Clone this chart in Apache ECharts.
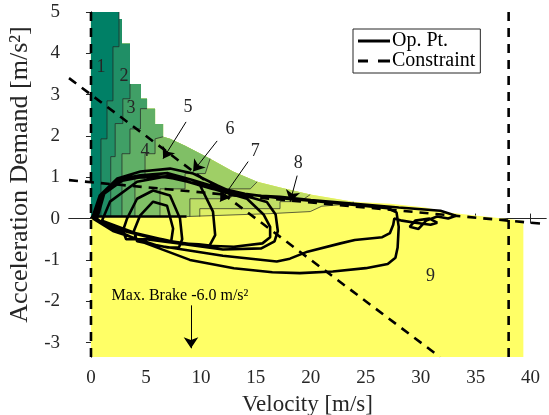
<!DOCTYPE html>
<html>
<head>
<meta charset="utf-8">
<script src="https://cdn.jsdelivr.net/npm/echarts@6/dist/echarts.min.js"></script>
<style>
html, body { margin: 0; background: #fff; }
#chart { width: 549px; height: 415px; }
</style>
</head>
<body>
<div id="chart"></div>
<script>
// max acceleration envelope of the gear map (velocity, accel)
var envelope = [
    [2.55, 5.0], [2.55, 4.83], [2.82, 4.83], [2.82, 4.23], [3.55, 4.23], [3.55, 3.26],
    [4.55, 3.26], [4.55, 2.90], [5.10, 2.90], [5.10, 2.66], [5.83, 2.66], [5.83, 2.29],
    [6.56, 2.29], [6.56, 1.98], [7.19, 1.93], [8.56, 1.76], [10.84, 1.45], [12.93, 1.14],
    [15.12, 0.89], [17.21, 0.75], [19.95, 0.58], [23.86, 0.41], [27.23, 0.36], [30.42, 0.27],
    [32.70, 0.14], [39.34, -0.05]
];
// index of the envelope point where each gear's right border starts
var gearCut = [0, 5, 9, 13, 16, 18, 20, 21];
// right border of gears 1..8
var gearEdges = [
    [[2.55, 5.0], [2.55, 4.16], [2.0, 4.16], [2.0, 2.85], [1.46, 2.85], [1.46, 1.93], [0.91, 1.93], [0.91, 0.05]],
    [[3.55, 3.26], [3.55, 2.90], [2.9, 2.90], [2.9, 2.30], [2.2, 2.30], [2.2, 1.50], [1.8, 1.50], [1.8, 0.05]],
    [[5.10, 2.66], [4.5, 2.66], [4.5, 2.17], [3.55, 2.17], [3.55, 1.57], [2.82, 1.57], [2.82, 0.05]],
    [[6.56, 1.98], [5.83, 1.93], [5.83, 1.57], [4.92, 1.57], [4.92, 0.97], [4.0, 0.97], [4.0, 0.05]],
    [[10.84, 1.45], [10.4, 1.09], [8.56, 1.09], [8.56, 0.72], [6.28, 0.72], [6.28, 0.05]],
    [[15.12, 0.89], [14.5, 0.72], [12.2, 0.72], [12.2, 0.48], [9.0, 0.48], [9.0, 0.05]],
    [[19.95, 0.58], [19.0, 0.41], [17.2, 0.41], [17.2, 0.24], [9.9, 0.24], [9.9, 0.05]],
    [[23.86, 0.41], [23.86, 0.36], [21.0, 0.30], [19.95, 0.17], [16.3, 0.12], [8.7, 0.05]]
];
var gearColors = ['#008066', '#208f66', '#409f66', '#60af66', '#80bf66', '#9fcf66', '#bfdf66', '#dfef66', '#ffff66'];
var gearNames = ['1', '2', '3', '4', '5', '6', '7', '8', '9'];
var gearNamePos = [[0.91, 3.67], [3.0, 3.45], [3.64, 2.66], [4.92, 1.64], [8.83, 2.70], [12.66, 2.17], [14.94, 1.64], [18.85, 1.33], [30.9, -1.40]];
// arrows from labels 5..8 to their regions
var arrowFrom = [[8.65, 2.34], [11.48, 1.88], [14.3, 1.38], [18.76, 1.04]];
var arrowTo = [[6.56, 1.45], [9.29, 1.14], [11.75, 0.41], [18.12, 0.41]];
var brakeText = 'Max. Brake -6.0 m/s²';
var brakeTextPos = [8.1, -1.86];
var brakeArrow = [[9.1, -2.1], [9.1, -3.14]];

// operating points
var opPt = [
    // long run up to 33 m/s, back down through the middle curve
    [0, 0], [0.18, 0.07], [0.8, 0.56], [2.4, 0.97], [4.5, 1.14], [7.2, 1.21], [9.3, 1.09], [11.5, 0.8],
    [13, 0.62], [15.5, 0.55], [17.2, 0.53], [20, 0.45], [24, 0.36], [28, 0.27], [31.8, 0.19], [33.2, 0.07],
    [32.5, 0.0], [31.5, 0.05], [30.5, -0.05], [29.8, -0.25], [29.0, -0.2], [29.5, -0.05], [30.8, 0.0],
    [31.5, -0.1], [30.9, -0.15], [29.5, -0.1], [28.3, -0.05], [27.6, 0.0], [27.5, -0.15], [27.2, -0.35],
    [26.5, -0.45], [24, -0.52], [22.7, -0.6], [19.7, -0.8], [18.1, -0.97], [16.9, -1.04], [12, -0.9],
    [6, -0.65], [2, -0.3], [0.2, 0],
    // run to 28 m/s with harder braking
    [1, 0.6], [2.5, 0.95], [4.5, 1.05], [7, 1.1], [9, 0.95], [11.5, 0.75], [14, 0.6], [17, 0.5],
    [20, 0.43], [24, 0.33], [27, 0.25], [27.8, 0.15], [28.0, -0.2], [27.9, -0.7], [27.7, -0.95],
    [27.0, -1.1], [25, -1.2], [22, -1.28], [19, -1.32], [16.5, -1.3], [13, -1.2], [9, -1.0], [5, -0.6],
    [2, -0.25], [0.3, 0],
    // two runs to about 16 m/s
    [1, 0.6], [2.5, 0.9], [4.5, 1.0], [7, 1.0], [9.5, 0.85], [12, 0.65], [14.2, 0.48], [15.7, 0.1],
    [16.3, -0.2], [16.3, -0.45], [15.6, -0.6], [13, -0.68], [10, -0.65], [6, -0.5], [3, -0.3], [0.5, -0.05],
    [1.2, 0.6], [3, 0.95], [5.5, 1.05], [8, 0.95], [11, 0.72], [14, 0.55], [16, 0.4], [16.8, 0.1],
    [17.0, -0.3], [16.7, -0.55], [15.5, -0.72], [12, -0.75], [8, -0.6], [4, -0.35], [1, -0.05],
    // short stop-and-go arches
    [1.73, 0.41], [4.19, 0.89], [7.19, 1.04], [9.93, 0.8], [11.1, 0.17], [11.3, -0.4], [10.8, -0.65],
    [9.8, -0.62], [8, -0.6], [5, -0.5], [3.2, -0.5], [2.9, -0.3], [3.28, 0], [4.19, 0.48], [5.65, 0.68],
    [7.19, 0.56], [8.1, 0], [8.3, -0.5], [8.0, -0.7], [7.0, -0.7], [4.2, -0.55], [3.9, -0.3], [4.46, 0.07],
    [5.65, 0.41], [6.92, 0.31], [7.47, -0.24], [7.3, -0.55], [6.5, -0.5], [5.5, -0.45], [3, -0.3],
    [1, -0.1], [0.3, 0.05], [8.7, 0.05]
];
var constraintLines = [
    [[0, -3.35], [0, 5]],
    [[38, -3.35], [38, 5]],
    [[-2, 3.4], [31.75, -3.35]],
    [[-2, 0.93], [41.4, -0.134]]
];

var serif = "'Liberation Serif', 'DejaVu Serif', serif";
var tickVals = [0, 5, 10, 15, 20, 25, 30, 35, 40];
var yTickVals = [-3, -2, -1, 0, 1, 2, 3, 4, 5];

function polygonSeries(points, color) {
    return {
        type: 'custom',
        coordinateSystem: 'cartesian2d',
        silent: true,
        clip: true,
        data: [[0, 0]],
        renderItem: function (params, api) {
            return {
                type: 'polygon',
                shape: { points: points.map(function (p) { return api.coord(p); }) },
                style: { fill: color }
            };
        }
    };
}

function textSeries(points, texts, font, color) {
    return {
        type: 'custom', coordinateSystem: 'cartesian2d', silent: true, z: 7,
        data: points.map(function (p, i) { return [p[0], p[1], i]; }),
        renderItem: function (params, api) {
            var c = api.coord([api.value(0), api.value(1)]);
            return {
                type: 'text', x: c[0], y: c[1],
                style: {
                    text: texts[api.value(2)], fill: color,
                    font: font, align: 'center', verticalAlign: 'middle'
                }
            };
        }
    };
}

var series = [];
// gear 9 covers the whole envelope
series.push(polygonSeries([[0, 5]].concat(envelope, [[39.34, -3.35], [0, -3.35]]), gearColors[8]));
for (var g = 7; g >= 0; g--) {
    var pts = [[0, 0.05], [0, 5]].concat(envelope.slice(0, gearCut[g]), gearEdges[g]);
    series.push(polygonSeries(pts, gearColors[g]));
}
gearEdges.forEach(function (e) {
    series.push({
        type: 'line', data: e, symbol: 'none', silent: true,
        lineStyle: { color: '#222', width: 0.7 }
    });
});
constraintLines.forEach(function (c) {
    series.push({
        name: 'Constraint', type: 'line', data: c, symbol: 'none', z: 4,
        lineStyle: { color: '#000', width: 2.6, type: [9, 7] },
        itemStyle: { color: '#000' }
    });
});
series.push({
    name: 'Op. Pt.', type: 'line', data: opPt, symbol: 'none', z: 5,
    lineStyle: { color: '#000', width: 2.6 },
    itemStyle: { color: '#000' }
});
series.push({
    type: 'lines', coordinateSystem: 'cartesian2d', z: 6, silent: true,
    symbol: ['none', 'arrow'], symbolSize: 11,
    lineStyle: { color: '#000', width: 1, opacity: 1 },
    data: arrowFrom.map(function (p, i) { return { coords: [p, arrowTo[i]] }; })
        .concat([{ coords: brakeArrow }])
});
series.push(textSeries(gearNamePos, gearNames, '18px ' + serif, '#262626'));
series.push(textSeries([brakeTextPos], [brakeText], '16px ' + serif, '#000'));

var axisLineStyle = { lineStyle: { color: '#262626', width: 1 } };
var tickStyle = { inside: true, length: 5, lineStyle: { color: '#262626' } };
var chart = echarts.init(document.getElementById('chart'), null, { renderer: 'canvas' });
chart.setOption({
    animation: false,
    grid: { left: 69, right: 3, top: 12, bottom: 58, outerBoundsMode: 'none', containLabel: false },
    legend: {
        data: [
            { name: 'Op. Pt.', icon: 'path://M0,0H32V3H0Z' },
            { name: 'Constraint', icon: 'path://M0,0H10V3H0Z M20,0H32V3H20Z' }
        ],
        orient: 'vertical', left: 353, top: 29,
        itemWidth: 32, itemHeight: 3, itemGap: 0,
        backgroundColor: '#fff', borderColor: '#262626', borderWidth: 1,
        padding: [2, 5, 2, 5],
        itemStyle: { color: '#000' },
        textStyle: { fontFamily: serif, fontSize: 20, color: '#000', lineHeight: 20, padding: [0, 0, 0, -3] }
    },
    xAxis: [{
        type: 'value', min: -2, max: 41.4,
        name: 'Velocity [m/s]', nameLocation: 'middle', nameGap: 36,
        nameTextStyle: { fontFamily: serif, fontSize: 23, color: '#262626' },
        axisLine: axisLineStyle, splitLine: { show: false },
        axisTick: Object.assign({ customValues: tickVals }, tickStyle),
        axisLabel: { customValues: tickVals, fontFamily: serif, fontSize: 19, color: '#262626', margin: 12 }
    }, {
        type: 'value', min: -2, max: 41.4, position: 'top',
        axisLine: axisLineStyle, splitLine: { show: false },
        axisTick: Object.assign({ customValues: tickVals }, tickStyle),
        axisLabel: { show: false }
    }],
    yAxis: [{
        type: 'value', min: -3.35, max: 5,
        name: 'Acceleration Demand [m/s²]', nameLocation: 'middle', nameGap: 28,
        nameTextStyle: { fontFamily: serif, fontSize: 26, color: '#262626', padding: [0, 0, 0, 20] },
        axisLine: axisLineStyle, splitLine: { show: false },
        axisTick: Object.assign({ customValues: yTickVals }, tickStyle),
        axisLabel: { customValues: yTickVals, fontFamily: serif, fontSize: 19, color: '#262626', margin: 9 }
    }, {
        type: 'value', min: -3.35, max: 5, position: 'right',
        axisLine: axisLineStyle, splitLine: { show: false },
        axisTick: Object.assign({ customValues: yTickVals }, tickStyle),
        axisLabel: { show: false }
    }],
    series: series
});
</script>
</body>
</html>
